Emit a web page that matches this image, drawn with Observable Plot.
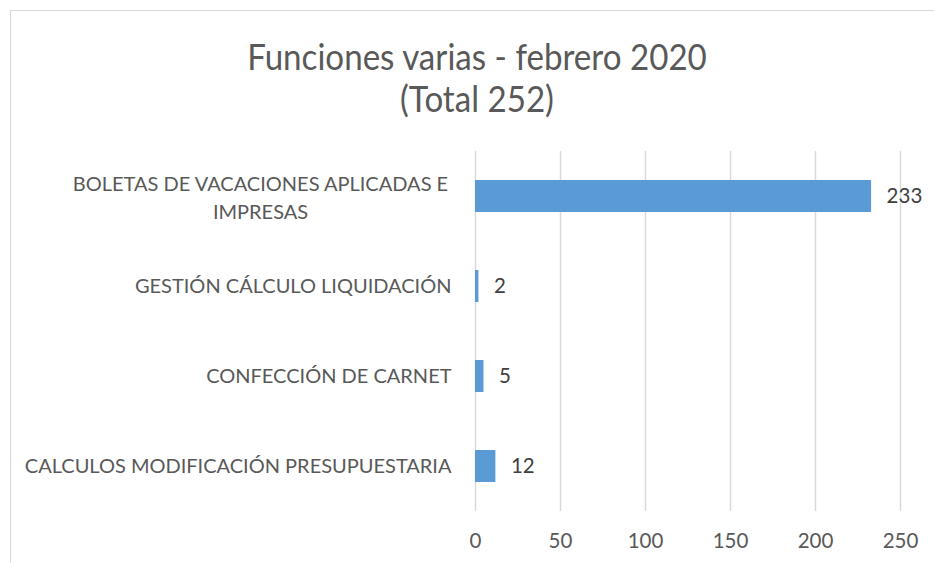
<!DOCTYPE html>
<html>
<head>
<meta charset="utf-8">
<script src="https://cdn.jsdelivr.net/npm/d3@7"></script>
<script src="https://cdn.jsdelivr.net/npm/@observablehq/plot@0.6"></script>
<style>
  html, body { margin: 0; padding: 0; background: #fff; }
  #wrap { position: relative; width: 934px; height: 563px; overflow: hidden; background: #fff; }
  #frame { position: absolute; left: 10px; top: 10px; width: 940px; height: 570px; border: 1px solid #d9d9d9; box-sizing: border-box; }
  #title { position: absolute; left: 10px; top: 35px; width: 934px; text-align: center;
           font-family: Lato, sans-serif; font-size: 36px; line-height: 42px; color: #595959;
           transform: scaleX(0.92); transform-origin: 467px 0; }
  #chart { position: absolute; left: 0; top: 130px; }
</style>
</head>
<body>
<div id="wrap">
  <div id="frame"></div>
  <div id="title">Funciones varias - febrero 2020<br>(Total 252)</div>
  <div id="chart"></div>
</div>
<script>
const categories = [
  "BOLETAS DE VACACIONES APLICADAS E\nIMPRESAS",
  "GESTIÓN CÁLCULO LIQUIDACIÓN",
  "CONFECCIÓN DE CARNET",
  "CALCULOS MODIFICACIÓN PRESUPUESTARIA"
];
const values = [233, 2, 5, 12];
const xTicks = [0, 50, 100, 150, 200, 250];

const data = categories.map((c, i) => ({category: c, value: values[i]}));
const font = "Lato, sans-serif";

const chart = Plot.plot({
  width: 934,
  height: 433,
  marginLeft: 475,
  marginRight: 34,
  marginTop: 21,
  marginBottom: 52,
  style: {fontFamily: font, background: "transparent"},
  x: {domain: [0, 250], ticks: xTicks},
  y: {domain: categories, paddingInner: 0.644, paddingOuter: 0.322},
  marks: [
    Plot.ruleX(xTicks, {x: d => d, stroke: "#d9d9d9", strokeWidth: 1.5}),
    Plot.barX(data, {x: "value", y: "category", fill: "#5b9bd5"}),
    Plot.text(data, {x: "value", y: "category", text: d => String(d.value), dx: 15, textAnchor: "start",
                     fill: "#404040", fontSize: 20.5, fontFamily: font}),
    Plot.text(categories.slice(1), {y: d => d, text: d => d, frameAnchor: "left", dx: -24, textAnchor: "end",
                     fill: "#595959", fontSize: 20, fontFamily: font}),
    Plot.text(categories.slice(0, 1), {y: d => d, text: d => d, frameAnchor: "left", dx: -215, textAnchor: "middle",
                     lineHeight: 1.4, fill: "#595959", fontSize: 20, fontFamily: font}),
    Plot.axisX(xTicks, {tickSize: 0, tickPadding: 22, fontSize: 20.5, fill: "#595959", fontFamily: font,
                     tickFormat: d => String(d), label: null}),
    Plot.axisY({ticks: [], label: null, tickSize: 0})
  ]
});
document.getElementById("chart").appendChild(chart);
</script>
</body>
</html>
